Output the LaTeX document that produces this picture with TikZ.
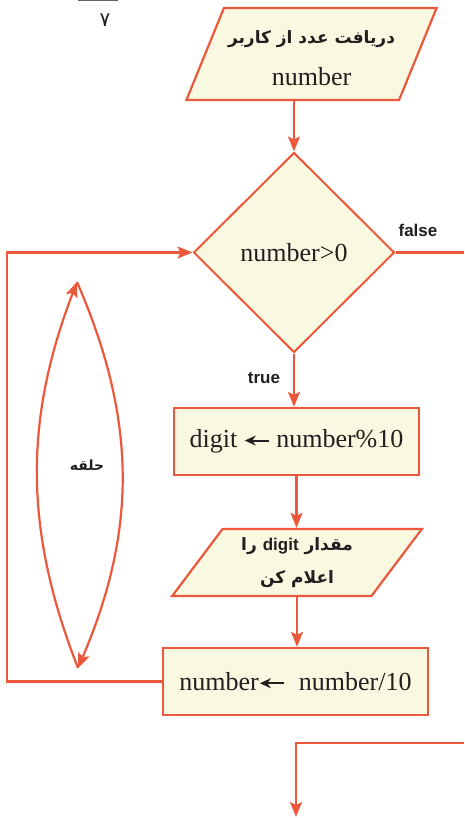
\documentclass[tikz,border=0pt]{standalone}
\usepackage{fontspec}
\setmainfont{Liberation Serif}
\newfontfamily\farsi[Script=Arabic]{DejaVu Sans}
\newfontfamily\lbl{Liberation Sans}
\TeXXeTstate=1
\usetikzlibrary{positioning,arrows.meta,shapes.geometric}

\definecolor{flowline}{RGB}{236,88,60}
\definecolor{flowfill}{RGB}{249,248,224}
\definecolor{ink}{RGB}{35,31,32}

\newcommand{\getsarr}{\tikz[baseline=-0.6ex]\draw[ink,line width=2pt,-{Stealth[length=11pt,width=10pt]}] (24pt,0pt) -- (0pt,0pt);}

\begin{document}
\begin{tikzpicture}[
  x=1pt, y=-1pt,
  >={Stealth[length=15pt,width=12pt,inset=3pt]},
  flow/.style={draw=flowline, line width=2.2pt},
  proc/.style={rectangle, draw=flowline, fill=flowfill, line width=2.2pt, minimum height=67pt, inner sep=0pt, text=ink, font=\fontsize{26}{30}\selectfont},
  io/.style={trapezium, trapezium stretches=true, draw=flowline, fill=flowfill, line width=2.2pt, inner sep=0pt, text=ink, align=center},
  decide/.style={diamond, draw=flowline, fill=flowfill, line width=2pt, minimum width=201pt, minimum height=200pt, inner sep=0pt, text=ink, font=\fontsize{26}{30}\selectfont},
  tag/.style={text=ink, font=\lbl\bfseries\fontsize{17}{20}\selectfont}
]
  \useasboundingbox (0,0) rectangle (464,818);

  % page number remnant
  \draw[ink!70, line width=0.8pt] (78,0.5) -- (118,0.5);
  \node[text=ink, font=\farsi\fontsize{20}{24}\selectfont] (pagenum) at (105,20) {۷};

  % Input
  \node[io, trapezium left angle=61, trapezium right angle=119, minimum width=251pt, minimum height=92pt] (input) at (311.5,54)
    {{\farsi\bfseries\fontsize{17}{24}\selectfont\rule{0pt}{22pt}\beginR دریافت عدد از کاربر\endR}\\[19pt]{\fontsize{26}{30}\selectfont number}};

  % Test
  \node[decide] (test) at (294,252.5) {number>0};
  \node[tag] (falsetag) at (418,230) {false};
  \node[tag] (truetag) at (264,378) {true};

  % Body
  \node[proc, minimum width=245pt] (digit) at (296.5,441.5) {digit \getsarr\ number\%10};
  \node[io, trapezium left angle=53, trapezium right angle=127, minimum width=250pt, minimum height=67pt,
        font=\farsi\bfseries\fontsize{17}{33}\selectfont] (show) at (297,562.5)
    {\beginR مقدار \beginL{\lbl digit}\endL{} را\endR\\\beginR اعلام کن\endR};
  \node[proc, minimum width=265pt] (divide) at (295.5,681.5) {number\getsarr\hspace{14pt}number/10};

  % Loop sign
  \coordinate (lenstop) at (77,282);
  \coordinate (lensbot) at (78,668);
  \node[text=ink, font=\farsi\bfseries\fontsize{14}{18}\selectfont] (looptag) at (87,465) {\beginR حلقه\endR};

  % Free ends
  \coordinate (loopcorner) at (7,681.5);
  \coordinate (falseend) at (464,252.5);
  \coordinate (exitstart) at (464,743);
  \coordinate (exitend) at (296,817);

  \draw[flow,->] (input.south -| test.north) -- (test.north);
  \draw[flow,->] (test.south) -- (test.south |- digit.north);
  \draw[flow,->] (digit.south) -- (digit.south |- show.north);
  \draw[flow,->] (show.south) -- (show.south |- divide.north);
  \draw[flow,->] (divide.west) -- (loopcorner) |- (test.west);
  \draw[flow] (test.east) -- (falseend);
  \draw[flow,->] (exitstart) -| (exitend);

  \draw[flow,->] (lensbot) .. controls (24,530) and (24,420) .. (lenstop);
  \draw[flow,->] (lenstop) .. controls (137,420) and (137,530) .. (lensbot);
\end{tikzpicture}
\end{document}
